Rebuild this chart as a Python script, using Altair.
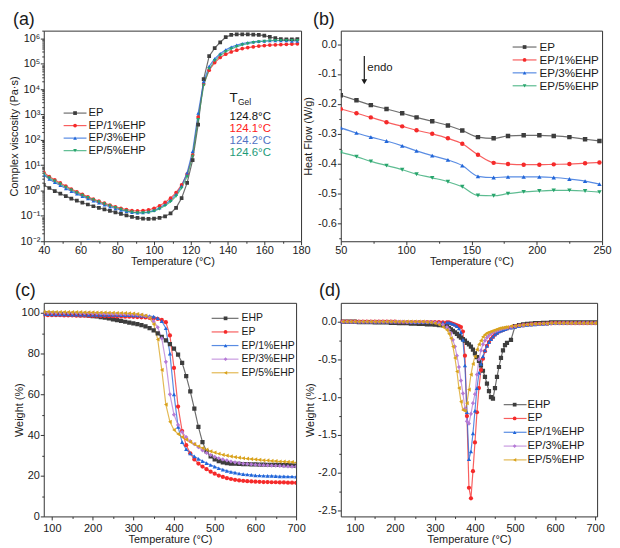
import altair as alt
import pandas as pd

FONT = "Liberation Sans"
INK = "#1a1a1a"

# ---------------- (a) complex viscosity (log10 of Pa·s) ----------------
T_a = list(range(40, 179, 3))
names_a = ["EP", "EP/1%EHP", "EP/3%EHP", "EP/5%EHP"]
lg_EP_a = [0.22, 0.10, -0.02, -0.12, -0.22, -0.32, -0.40, -0.48, -0.55, -0.62,
           -0.68, -0.74, -0.80, -0.86, -0.92, -0.98, -1.04, -1.08, -1.11, -1.12,
           -1.11, -1.08, -1.02, -0.90, -0.68, -0.30, 0.30, 1.20, 2.60, 4.40,
           5.30, 5.62, 5.85, 6.05, 6.14, 6.16, 6.16, 6.16, 6.15, 6.14,
           6.11, 6.06, 6.01, 5.98, 5.97, 5.97, 5.98]
lg_EP1_a = [0.72, 0.55, 0.42, 0.30, 0.18, 0.06, -0.05, -0.15, -0.25, -0.34,
            -0.42, -0.50, -0.57, -0.64, -0.70, -0.75, -0.79, -0.80, -0.79, -0.76,
            -0.70, -0.60, -0.47, -0.30, -0.08, 0.22, 0.65, 1.40, 2.90, 4.20,
            4.75, 5.05, 5.25, 5.38, 5.47, 5.54, 5.60, 5.64, 5.67, 5.70,
            5.72, 5.74, 5.75, 5.76, 5.77, 5.78, 5.79]
lg_EP3_a = [0.62, 0.45, 0.32, 0.20, 0.08, -0.03, -0.13, -0.23, -0.32, -0.41,
            -0.49, -0.57, -0.64, -0.71, -0.77, -0.82, -0.86, -0.88, -0.87, -0.84,
            -0.78, -0.68, -0.55, -0.38, -0.15, 0.18, 0.70, 1.55, 3.05, 4.30,
            4.90, 5.20, 5.40, 5.55, 5.66, 5.74, 5.80, 5.84, 5.87, 5.89,
            5.90, 5.91, 5.91, 5.91, 5.91, 5.90, 5.90]
lg_EP5_a = [0.66, 0.50, 0.37, 0.25, 0.13, 0.02, -0.09, -0.19, -0.28, -0.37,
            -0.45, -0.53, -0.60, -0.67, -0.74, -0.80, -0.85, -0.88, -0.88, -0.86,
            -0.81, -0.72, -0.60, -0.44, -0.22, 0.10, 0.55, 1.35, 2.80, 4.15,
            4.80, 5.12, 5.33, 5.48, 5.59, 5.68, 5.75, 5.80, 5.84, 5.87,
            5.89, 5.91, 5.92, 5.92, 5.92, 5.92, 5.92]
tgel_text = ["124.8°C", "124.1°C", "124.2°C", "124.6°C"]
tgel_colors = ["#111111", "#ff2020", "#4f72c4", "#1c9a78"]

# ---------------- (b) DSC heat flow (W/g) ----------------
T_b = [50, 62, 73, 85, 97, 108, 120, 132, 143, 155, 167, 178, 190, 202, 213, 225, 237, 248]
names_b = ["EP", "EP/1%EHP", "EP/3%EHP", "EP/5%EHP"]
hf_EP = [-0.171, -0.188, -0.204, -0.217, -0.231, -0.245, -0.258, -0.272, -0.289,
         -0.311, -0.315, -0.307, -0.305, -0.305, -0.307, -0.311, -0.318, -0.324]
hf_EP1 = [-0.217, -0.231, -0.245, -0.261, -0.275, -0.288, -0.300, -0.315, -0.333,
          -0.370, -0.397, -0.401, -0.403, -0.403, -0.402, -0.401, -0.398, -0.396]
hf_EP3 = [-0.280, -0.297, -0.311, -0.324, -0.340, -0.357, -0.373, -0.387, -0.406,
          -0.442, -0.446, -0.444, -0.444, -0.444, -0.446, -0.451, -0.458, -0.468]
hf_EP5 = [-0.362, -0.376, -0.392, -0.406, -0.420, -0.435, -0.447, -0.460, -0.477,
          -0.506, -0.507, -0.500, -0.494, -0.491, -0.489, -0.489, -0.491, -0.495]
endo_T = [68.0]
endo_v = [-0.04, -0.12]
endo_head_v = [-0.126]
endo_text_v = [-0.081]

# ---------------- (c) TGA weight (%) ----------------
T_c = list(range(60, 701, 10))
names_cd = ["EHP", "EP", "EP/1%EHP", "EP/3%EHP", "EP/5%EHP"]
w_EHP = [99.8, 99.8, 99.7, 99.7, 99.6, 99.6, 99.5, 99.4, 99.3, 99.2,
         99.1, 99.0, 98.9, 98.7, 98.5, 98.3, 98.0, 97.7, 97.3, 96.9,
         96.5, 96.1, 95.7, 95.3, 94.9, 94.5, 94.0, 93.4, 92.6, 91.5,
         90.0, 88.3, 86.5, 84.7, 82.5, 79.5, 75.5, 69.0, 61.5, 53.0,
         44.0, 36.5, 32.0, 29.5, 28.0, 27.2, 26.6, 26.2, 26.0, 25.9,
         25.8, 25.7, 25.7, 25.6, 25.6, 25.5, 25.5, 25.4, 25.4, 25.3,
         25.3, 25.2, 25.2, 25.1, 25.0]
w_EP = [99.0, 99.0, 99.0, 98.9, 98.9, 98.9, 98.9, 98.8, 98.8, 98.8,
        98.7, 98.7, 98.7, 98.6, 98.6, 98.6, 98.5, 98.5, 98.4, 98.4,
        98.3, 98.3, 98.2, 98.2, 98.1, 98.0, 97.9, 97.8, 97.6, 97.4,
        97.1, 96.6, 95.5, 89.0, 73.0, 54.0, 42.0, 35.0, 31.0, 28.0,
        26.0, 24.5, 23.2, 22.0, 21.0, 20.1, 19.4, 18.8, 18.4, 18.0,
        17.7, 17.5, 17.3, 17.2, 17.1, 17.0, 16.9, 16.9, 16.8, 16.8,
        16.7, 16.7, 16.6, 16.6, 16.5]
w_EP1 = [99.4, 99.4, 99.4, 99.4, 99.3, 99.3, 99.3, 99.3, 99.3, 99.2,
         99.2, 99.2, 99.2, 99.1, 99.1, 99.1, 99.1, 99.0, 99.0, 99.0,
         99.0, 98.9, 98.9, 98.9, 98.8, 98.8, 98.7, 98.6, 98.5, 98.2,
         97.5, 96.0, 92.5, 80.0, 60.0, 44.0, 36.5, 33.0, 31.0, 29.5,
         28.3, 27.2, 26.2, 25.3, 24.5, 23.7, 23.0, 22.4, 21.9, 21.5,
         21.1, 20.8, 20.6, 20.4, 20.2, 20.1, 20.0, 19.9, 19.9, 19.8,
         19.7, 19.7, 19.6, 19.6, 19.5]
w_EP3 = [100.2, 100.2, 100.2, 100.1, 100.1, 100.1, 100.1, 100.0, 100.0, 100.0,
         100.0, 99.9, 99.9, 99.9, 99.8, 99.8, 99.8, 99.7, 99.7, 99.6,
         99.6, 99.5, 99.5, 99.4, 99.3, 99.2, 99.0, 98.6, 97.8, 96.0,
         93.0, 87.5, 76.0, 60.0, 50.0, 45.0, 41.5, 39.0, 37.0, 35.5,
         34.0, 32.5, 31.2, 30.2, 29.3, 28.6, 28.0, 27.5, 27.0, 26.6,
         26.3, 26.0, 25.8, 25.6, 25.4, 25.3, 25.2, 25.1, 25.0, 24.9,
         24.8, 24.7, 24.6, 24.5, 24.5]
w_EP5 = [100.6, 100.6, 100.6, 100.6, 100.5, 100.5, 100.5, 100.5, 100.4, 100.4,
         100.4, 100.4, 100.3, 100.3, 100.3, 100.2, 100.2, 100.2, 100.1, 100.1,
         100.0, 100.0, 99.9, 99.8, 99.7, 99.5, 99.2, 98.7, 97.5, 94.5,
         87.0, 72.0, 55.0, 46.5, 42.5, 40.5, 39.0, 37.8, 36.6, 35.5,
         34.5, 33.6, 32.8, 32.0, 31.4, 30.8, 30.3, 29.9, 29.5, 29.2,
         28.9, 28.6, 28.4, 28.2, 28.0, 27.8, 27.6, 27.5, 27.3, 27.2,
         27.0, 26.9, 26.8, 26.7, 26.5]

# ---------------- (d) DTG ----------------
T_d = list(range(60, 321, 10)) + list(range(330, 481, 5)) + list(range(490, 701, 10))
d_EHP = [0, 0, 0, 0, 0, -0.005, -0.005, -0.005, -0.005, -0.01,
         -0.01, -0.01, -0.01, -0.015, -0.015, -0.02, -0.02, -0.02, -0.025, -0.025,
         -0.03, -0.03, -0.035, -0.035, -0.04, -0.045, -0.05,
         -0.06, -0.08, -0.10, -0.12, -0.14, -0.16, -0.19, -0.21, -0.23, -0.25,
         -0.28, -0.30, -0.33, -0.37, -0.42, -0.47, -0.52, -0.58, -0.65, -0.73,
         -0.82, -0.92, -1.00, -1.02, -0.88, -0.73, -0.60, -0.48, -0.38, -0.31, -0.28,
         -0.24, -0.06, -0.045, -0.035, -0.03, -0.025, -0.02, -0.02, -0.015, -0.015,
         -0.01, -0.01, -0.01, -0.01, -0.01, -0.01, -0.01, -0.01, -0.01, -0.01, -0.01, -0.01]
d_EP = [0, 0, 0, 0, 0, 0, 0, 0, 0, 0,
        0, 0, 0, 0, 0, -0.005, -0.005, -0.005, -0.005, -0.005,
        -0.005, -0.005, -0.005, -0.005, -0.005, -0.005, -0.01,
        -0.01, -0.01, -0.02, -0.03, -0.04, -0.05, -0.06, -0.07, -0.13, -0.45,
        -1.25, -2.20, -2.34, -1.98, -1.60, -1.20, -0.88, -0.64, -0.49, -0.39,
        -0.32, -0.27, -0.23, -0.20, -0.17, -0.15, -0.13, -0.12, -0.11, -0.10, -0.09,
        -0.075, -0.065, -0.055, -0.048, -0.042, -0.036, -0.032, -0.03, -0.027, -0.025,
        -0.022, -0.02, -0.02, -0.02, -0.02, -0.02, -0.02, -0.02, -0.02, -0.02, -0.02, -0.02]
d_EP1 = [0, 0, 0, 0, 0, 0, 0, 0, 0, 0,
         0, 0, 0, 0, 0, 0, 0, 0, -0.005, -0.005,
         -0.005, -0.005, -0.005, -0.005, -0.005, -0.01, -0.01,
         -0.01, -0.01, -0.02, -0.03, -0.04, -0.06, -0.09, -0.14, -0.24, -0.58,
         -1.20, -1.82, -1.72, -1.48, -1.18, -0.88, -0.68, -0.56, -0.46, -0.38,
         -0.32, -0.27, -0.23, -0.20, -0.17, -0.15, -0.13, -0.12, -0.11, -0.10, -0.09,
         -0.08, -0.07, -0.06, -0.05, -0.045, -0.04, -0.035, -0.03, -0.03, -0.025,
         -0.02, -0.02, -0.015, -0.015, -0.015, -0.01, -0.01, -0.01, -0.01, -0.01, -0.01, -0.01]
d_EP3 = [0, 0, 0, 0, 0, 0, 0, 0, 0, 0,
         0, 0, 0, 0, 0, 0, 0, -0.005, -0.005, -0.005,
         -0.005, -0.005, -0.005, -0.005, -0.01, -0.02, -0.04,
         -0.07, -0.10, -0.15, -0.24, -0.33, -0.45, -0.60, -0.78, -0.95, -1.15,
         -1.32, -1.35, -1.22, -1.08, -0.96, -0.70, -0.50, -0.38, -0.30, -0.25,
         -0.21, -0.18, -0.16, -0.14, -0.13, -0.12, -0.11, -0.10, -0.09, -0.085, -0.08,
         -0.07, -0.06, -0.05, -0.045, -0.04, -0.035, -0.03, -0.03, -0.025, -0.025,
         -0.02, -0.02, -0.02, -0.02, -0.02, -0.02, -0.02, -0.02, -0.02, -0.02, -0.02, -0.02]
d_EP5 = [0, 0, 0, 0, 0, 0, 0, 0, 0, 0,
         0, 0, 0, 0, 0, 0, 0, 0, 0, 0,
         0, 0, -0.005, -0.01, -0.02, -0.04, -0.07,
         -0.11, -0.16, -0.22, -0.33, -0.48, -0.66, -0.88, -1.06, -1.17, -1.18,
         -1.08, -0.90, -0.70, -0.56, -0.46, -0.37, -0.30, -0.25, -0.20, -0.17,
         -0.15, -0.14, -0.13, -0.12, -0.11, -0.10, -0.09, -0.085, -0.08, -0.075, -0.07,
         -0.06, -0.055, -0.05, -0.045, -0.04, -0.035, -0.03, -0.03, -0.025, -0.025,
         -0.02, -0.02, -0.02, -0.02, -0.02, -0.02, -0.02, -0.02, -0.02, -0.02, -0.02, -0.02]

# ---------------- styles ----------------
C_GRAY, C_RED, C_BLUE, C_GREEN = "#3d3d3d", "#f52a2a", "#2166d9", "#27a56c"
C_PURPLE, C_GOLD = "#b57ad6", "#d9a21b"
colors_a = [C_GRAY, C_RED, C_BLUE, C_GREEN]
shapes_a = ["square", "circle", "triangle-up", "triangle-down"]
colors_cd = [C_GRAY, C_RED, C_BLUE, C_PURPLE, C_GOLD]
shapes_cd = ["square", "circle", "triangle-up", "diamond", "triangle-left"]


def long_df(T, series, names):
    rows = []
    for name, vals in zip(names, series):
        for t, v in zip(T, vals):
            rows.append({"T": t, "v": v, "s": name})
    return pd.DataFrame(rows)


def lin_axis(title, values, test, fmt, tp, lp):
    return alt.Axis(
        title=title, values=values,
        labelExpr=f"({test}) ? replace(format(datum.value, '{fmt}'), '\u2212', '-') : ''",
        tickSize={"condition": {"test": test, "value": 3.5}, "value": 2},
        titlePadding=tp, labelPadding=lp, labelFlush=False, labelOverlap=False,
    )


def color_enc(names, colors):
    return alt.Color("s:N", scale=alt.Scale(domain=names, range=colors), legend=None)


def shape_enc(names, shapes):
    return alt.Shape("s:N", scale=alt.Scale(domain=names, range=shapes), legend=None)


def data_layers(df, names, colors, shapes, xs, ys, msize, interp="linear"):
    base = alt.Chart(df)
    line = base.mark_line(strokeWidth=1.2, opacity=0.75, clip=True, interpolate=interp).encode(
        x=xs, y=ys, color=color_enc(names, colors))
    pts = base.mark_point(filled=True, size=msize, opacity=1, clip=True).encode(
        x=xs, y=ys, color=color_enc(names, colors), shape=shape_enc(names, shapes))
    return [line, pts]


def legend_layers(names, colors, shapes, x1, x2, xm, xt, y0, dy, fs, msize):
    ldf = pd.DataFrame({"s": names, "i": list(range(len(names)))})
    b = alt.Chart(ldf).transform_calculate(
        py=f"{y0} + datum.i * {dy}", x1=f"{x1}", x2=f"{x2}", xm=f"{xm}", xt=f"{xt}")
    Y = alt.Y("py:Q", scale=None, axis=None)
    r = b.mark_rule(strokeWidth=1.2, opacity=0.75).encode(
        x=alt.X("x1:Q", scale=None, axis=None), x2="x2:Q", y=Y, color=color_enc(names, colors))
    p = b.mark_point(filled=True, size=msize, opacity=1).encode(
        x=alt.X("xm:Q", scale=None, axis=None), y=Y, color=color_enc(names, colors),
        shape=shape_enc(names, shapes))
    t = b.mark_text(align="left", baseline="middle", fontSize=fs, font=FONT, color=INK).encode(
        x=alt.X("xt:Q", scale=None, axis=None), y=Y, text="s:N")
    return [r, p, t]


def panel_label(txt, x, y):
    return alt.Chart(pd.DataFrame({"t": [txt]})).mark_text(
        align="left", baseline="middle", fontSize=18, font=FONT, color=INK).encode(
        x=alt.value(x), y=alt.value(y), text="t:N")


# ---------------- panel (a) ----------------
df_a = long_df(T_a, [lg_EP_a, lg_EP1_a, lg_EP3_a, lg_EP5_a], names_a)
df_a["eta"] = 10 ** df_a["v"]
log_vals = [m * 10 ** e for e in range(-2, 7) for m in range(1, 10) if m * 10 ** e <= 2e6]
log_test = "abs(log(datum.value)/LN10 - round(log(datum.value)/LN10)) < 1e-6"
sup = "['10\u207b\u00b2','10\u207b\u00b9','10\u2070','10\u00b9','10\u00b2','10\u00b3','10\u2074','10\u2075','10\u2076']"
ax_a_y = alt.Axis(
    title="Complex viscosity (Pa·s)", values=log_vals,
    labelExpr=f"({log_test}) ? {sup}[round(log(datum.value)/LN10)+2] : ''",
    tickSize={"condition": {"test": log_test, "value": 3.5}, "value": 2},
    titlePadding=0.5, labelPadding=0.5, labelOverlap=False, labelFlush=False)
ax_a_x = lin_axis("Temperature (°C)", list(range(40, 181, 10)), "datum.value % 20 == 0", "d", 0, 0)
xs_a = alt.X("T:Q", scale=alt.Scale(domain=[40, 180], nice=False, zero=False), axis=ax_a_x)
ys_a = alt.Y("eta:Q", scale=alt.Scale(type="log", domain=[0.01, 2.04e6], nice=False), axis=ax_a_y)
layers_a = data_layers(df_a, names_a, colors_a, shapes_a, xs_a, ys_a, 14)
layers_a += legend_layers(names_a, colors_a, shapes_a, 20, 43, 31.5, 45, 83, 12.6, 11.3, 14)
ann = [alt.Chart(pd.DataFrame({"t": ["T"]})).mark_text(
           align="left", baseline="middle", fontSize=13.5, font=FONT, color=INK).encode(
           x=alt.value(187), y=alt.value(68), text="t:N"),
       alt.Chart(pd.DataFrame({"t": ["Gel"]})).mark_text(
           align="left", baseline="middle", fontSize=8.5, font=FONT, color=INK).encode(
           x=alt.value(195.5), y=alt.value(72), text="t:N")]
for k, (txt, col) in enumerate(zip(tgel_text, tgel_colors)):
    ann.append(alt.Chart(pd.DataFrame({"t": [txt]})).mark_text(
        align="left", baseline="middle", fontSize=11.5, font=FONT, color=col).encode(
        x=alt.value(187), y=alt.value(87 + k * 12.2), text="t:N"))
pa = alt.layer(*layers_a, *ann, panel_label("(a)", -31, -11)).properties(width=259, height=212)

# ---------------- panel (b) ----------------
df_b = long_df(T_b, [hf_EP, hf_EP1, hf_EP3, hf_EP5], names_b)
ax_b_x = lin_axis("Temperature (°C)", list(range(50, 251, 25)), "datum.value % 50 == 0", "d", 0, 0)
ax_b_y = lin_axis("Heat Flow (W/g)", [i / 100 for i in range(-65, 5, 5)],
                  "abs(datum.value*10 - round(datum.value*10)) < 0.001", ".1f", 4.5, 1)
xs_b = alt.X("T:Q", scale=alt.Scale(domain=[50, 250], nice=False, zero=False), axis=ax_b_x)
ys_b = alt.Y("v:Q", scale=alt.Scale(domain=[-0.659, 0.045], nice=False, zero=False), axis=ax_b_y)
layers_b = data_layers(df_b, names_b, colors_a, shapes_a, xs_b, ys_b, 20, "monotone")
layers_b += legend_layers(names_b, colors_a, shapes_a, 173, 197, 185, 200, 16.5, 13, 11.7, 14)
arr_line_df = pd.DataFrame({"T": endo_T * 2, "v": endo_v})
arr_head_df = pd.DataFrame({"T": endo_T, "v": endo_head_v})
arr_text_df = pd.DataFrame({"T": endo_T, "v": endo_text_v})
arr_rule = alt.Chart(arr_line_df).mark_line(color=INK, strokeWidth=1.2).encode(x=xs_b, y=ys_b)
arr_head = alt.Chart(arr_head_df).mark_point(shape="triangle-down", filled=True, size=34,
                                             color=INK, opacity=1).encode(x=xs_b, y=ys_b)
arr_text = alt.Chart(arr_text_df).mark_text(text="endo", align="left", baseline="middle", dx=3,
                                            fontSize=11.5, font=FONT, color=INK).encode(x=xs_b, y=ys_b)
pb = alt.layer(*layers_b, arr_rule, arr_head, arr_text, panel_label("(b)", -28, -11)).properties(
    width=263, height=212)

# ---------------- panel (c) ----------------
df_c = long_df(T_c, [w_EHP, w_EP, w_EP1, w_EP3, w_EP5], names_cd)
ax_c_x = lin_axis("Temperature (°C)", list(range(100, 701, 50)), "datum.value % 100 == 0", "d", 0, 2.5)
ax_c_y = lin_axis("Weight (%)", list(range(0, 101, 10)), "datum.value % 20 == 0", "d", -3, 1)
xs_c = alt.X("T:Q", scale=alt.Scale(domain=[80, 700], nice=False, zero=False), axis=ax_c_x)
ys_c = alt.Y("v:Q", scale=alt.Scale(domain=[0, 105], nice=False, zero=False), axis=ax_c_y)
layers_c = data_layers(df_c, names_cd, colors_cd, shapes_cd, xs_c, ys_c, 18)
layers_c += legend_layers(names_cd, colors_cd, shapes_cd, 169, 196, 183, 199, 15.6, 13.7, 10.5, 14)
pc = alt.layer(*layers_c, panel_label("(c)", -29, -12)).properties(width=254, height=215)

# ---------------- panel (d) ----------------
df_d = long_df(T_d, [d_EHP, d_EP, d_EP1, d_EP3, d_EP5], names_cd)
ax_d_x = lin_axis("Temperature (°C)", list(range(100, 701, 50)), "datum.value % 100 == 0", "d", 0, 2.5)
ax_d_y = lin_axis("Weight (%)", [i / 4 for i in range(-10, 1)],
                  "abs(datum.value*2 - round(datum.value*2)) < 0.001", ".1f", 2.5, 1)
xs_d = alt.X("T:Q", scale=alt.Scale(domain=[65, 705], nice=False, zero=False), axis=ax_d_x)
ys_d = alt.Y("v:Q", scale=alt.Scale(domain=[-2.58, 0.25], nice=False, zero=False), axis=ax_d_y)
layers_d = data_layers(df_d, names_cd, colors_cd, shapes_cd, xs_d, ys_d, 18)
layers_d += legend_layers(names_cd, colors_cd, shapes_cd, 164, 187, 175, 188, 102.5, 13.9, 11.2, 14)
pd_ = alt.layer(*layers_d, panel_label("(d)", -22, -12)).properties(width=258, height=215)

chart = alt.concat(
    pa, pb, pc, pd_, columns=2, spacing={"row": 62, "column": 40}, bounds="flush", align="none"
).resolve_scale(
    x="independent", y="independent", color="independent", shape="independent"
).configure(font=FONT).configure_view(
    stroke="#333333", strokeWidth=1
).configure_axis(
    domain=False, grid=False, tickColor="#333333", tickWidth=1,
    labelColor=INK, titleColor=INK, labelFont=FONT, titleFont=FONT,
    labelFontSize=11, titleFontSize=11, titleFontWeight="normal"
).properties(padding={"left": 0, "top": 0, "right": 0, "bottom": 0})

chart.save("out.html", embed_options={"renderer": "svg", "actions": False})
